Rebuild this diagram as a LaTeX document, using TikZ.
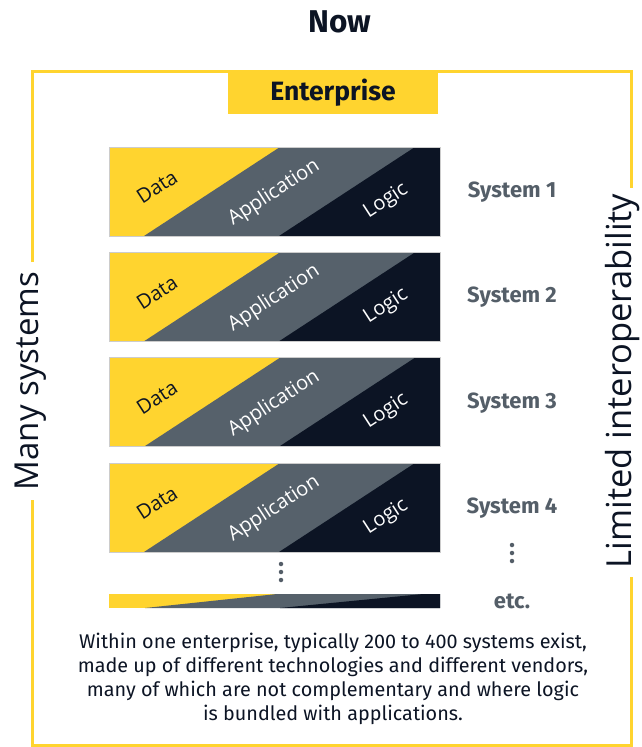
\documentclass[tikz,border=0pt]{standalone}
\usepackage{fontspec}
\setmainfont{Fira Sans}
\newfontfamily\labelfont{Open Sans}
\definecolor{eyyellow}{HTML}{FFD42F}
\definecolor{eygray}{HTML}{56616B}
\definecolor{eydark}{HTML}{0C1424}
\definecolor{syslabel}{HTML}{545E68}
\tikzset{
  frameline/.style={draw=eyyellow, line width=3pt},
  title/.style={font=\fontsize{31.5}{31.5}\selectfont\bfseries, text=eydark},
  entbox/.style={fill=eyyellow, minimum width=210pt, minimum height=42pt, inner sep=0pt,
                 font=\fontsize{26.5}{26.5}\selectfont\bfseries, text=eydark},
  sidetext/.style={font=\labelfont\fontsize{33}{33}\selectfont, text=eydark, rotate=90, inner sep=0pt},
  syslbl/.style={font=\fontsize{22}{22}\selectfont\bfseries, text=syslabel},
  datalbl/.style={font=\labelfont\fontsize{20}{20}\selectfont, text=eydark, rotate=33, inner sep=0pt},
  applbl/.style={font=\labelfont\fontsize{20}{20}\selectfont, text=white, rotate=33, inner sep=0pt},
  dotmark/.style={circle, fill=syslabel, inner sep=0pt, minimum size=4.5pt},
  caption/.style={font=\fontsize{19.8}{24}\selectfont, text=eydark, align=center},
}
% one system block: top edge y, height h
\newcommand{\sysblock}[2]{%
  \fill[eyyellow] (109,#1) rectangle (440,#1+#2);
  \fill[eygray] (144,#1+#2) -- (280,#1) -- (440,#1) -- (440,#1+#2) -- cycle;
  \fill[eydark] (279,#1+#2) -- (415,#1) -- (440,#1) -- (440,#1+#2) -- cycle;
  \draw[black!20, line width=0.6pt] (109,#1) rectangle (440,#1+#2);
}
\begin{document}
\begin{tikzpicture}[x=1pt, y=-1pt]
\useasboundingbox (0,0) rectangle (641,747);

% title
\node[title] (now) at (340,22) {Now};

% enterprise frame, open where the side texts stand
\draw[frameline] (32,262) -- (32,71) -- (631,71) -- (631,188);
\draw[frameline] (631,577) -- (631,745) -- (32,745) -- (32,500);
\node[entbox] (ent) at (333,93) {Enterprise};

% side texts
\node[sidetext] (many) at (31,381) {Many systems};
\node[sidetext, font=\labelfont\fontsize{34.5}{34.5}\selectfont] (limited) at (623,381) {Limited interoperability};

% system blocks
\foreach \i/\y in {1/147, 2/252.3, 3/357.7, 4/463} {
  \sysblock{\y}{89}
  \node[datalbl] (data\i) at (157,\y+40) {Data};
  \node[applbl] (app\i) at (274,\y+46) {Application};
  \node[applbl] (logic\i) at (386,\y+54) {Logic};
  \node[syslbl] (sys\i) at (512,\y+45) {System \i};
}

% continuation dots
\foreach \k/\y in {1/564, 2/572, 3/580} {
  \node[dotmark] (ldot\k) at (281,\y) {};
}
\foreach \k/\y in {1/545, 2/553, 3/561} {
  \node[dotmark] (rdot\k) at (512,\y) {};
}

% last, flattened system strip
\fill[eyyellow] (109,594) rectangle (440,608);
\fill[eygray] (145,608) -- (277,594) -- (440,594) -- (440,608) -- cycle;
\fill[eydark] (280,608) -- (423,594) -- (440,594) -- (440,608) -- cycle;
\node[syslbl] (etc) at (512,601) {etc.};

% caption
\node[caption] (cap) at (333,679) {Within one enterprise, typically 200 to 400 systems exist,\\
made up of different technologies and different vendors,\\
many of which are not complementary and where logic\\
is bundled with applications.};
\end{tikzpicture}
\end{document}
